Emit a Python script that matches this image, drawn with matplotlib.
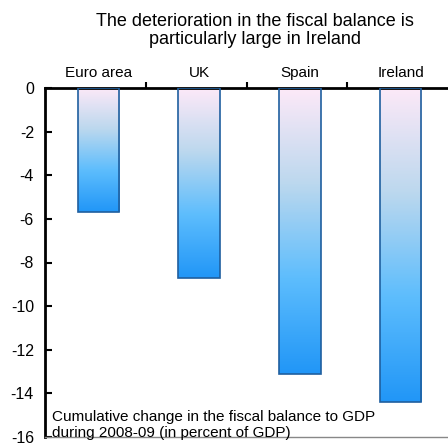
import matplotlib.pyplot as plt
import numpy as np
from matplotlib.colors import LinearSegmentedColormap

plt.rcParams['font.family'] = ['Liberation Sans', 'DejaVu Sans']
plt.rcParams['axes.unicode_minus'] = False

# Data
countries = ['Euro area', 'UK', 'Spain', 'Ireland']
fiscal_change = [-5.7, -8.7, -13.1, -14.4]

# pink at the top of each bar fading to blue at the bottom
grad = LinearSegmentedColormap.from_list(
    'bar_grad', ['#fde9f8', '#bcd8ee', '#5dbdfd', '#2196f7'])

fig = plt.figure(figsize=(4.48, 4.46), dpi=100)
ax = fig.add_axes([45 / 448, 9 / 446, 403 / 448, 349 / 446])

x = np.arange(len(countries)) + 0.53
bars = ax.bar(x, fiscal_change, width=0.41, color='none',
              edgecolor='#1f5f9f', linewidth=1.2, zorder=3)

# fill each bar with its own vertical gradient
g = np.linspace(1, 0, 256).reshape(-1, 1)
for bar in bars:
    x0 = bar.get_x()
    w = bar.get_width()
    h = bar.get_height()
    im = ax.imshow(g, cmap=grad, aspect='auto', extent=[x0, x0 + w, h, 0],
                   origin='lower', zorder=2)
    im.set_clip_path(bar)

# imshow resets limits
ax.set_xlim(0, len(countries))
ax.set_ylim(-16, 0)

# axes styling
ax.spines['right'].set_visible(False)
ax.spines['left'].set_linewidth(2)
ax.spines['top'].set_linewidth(2)
ax.spines['bottom'].set_color('#888888')
ax.spines['bottom'].set_linewidth(1)

ax.set_yticks(np.arange(-16, 1, 2))
ax.tick_params(axis='y', direction='in', length=5, width=1.5, labelsize=11.5,
               pad=8)

ax.xaxis.tick_top()
ax.set_xticks([1, 2, 3])
ax.set_xticklabels([])
ax.set_xticks(x, minor=True)
ax.set_xticklabels(countries, minor=True, fontsize=11)
ax.tick_params(axis='x', which='major', direction='out', length=4, width=1.5)
ax.tick_params(axis='x', which='minor', length=0, pad=6)

ax.text(0.07, -14.78, 'Cumulative change in the fiscal balance to GDP\n'
        'during 2008-09 (in percent of GDP)', fontsize=11, va='top',
        linespacing=1.15)

fig.text(0.57, 0.97, 'The deterioration in the fiscal balance is\n'
         'particularly large in Ireland', ha='center', va='top',
         fontsize=13, linespacing=1.05)

fig.savefig('out.png', dpi=100)
